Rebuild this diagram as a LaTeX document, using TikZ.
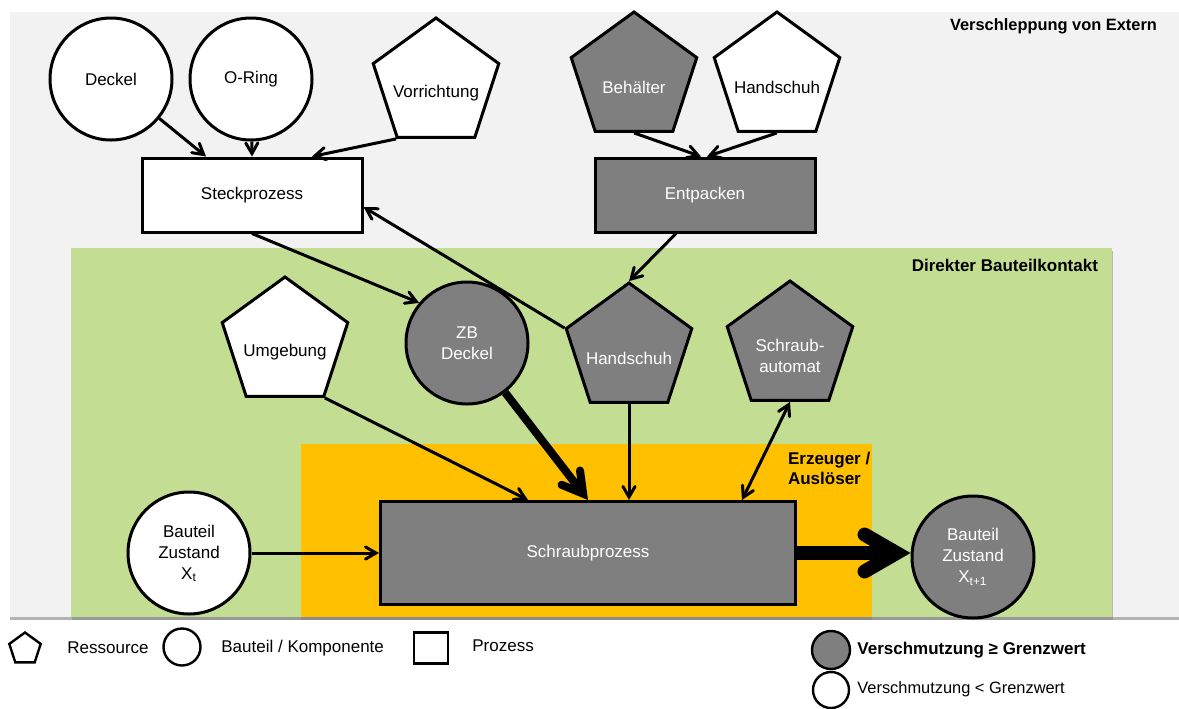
\documentclass[tikz,border=0pt]{standalone}
\usepackage{fontspec}
\setmainfont{Liberation Sans}
\usepackage{tikz}
\usetikzlibrary{arrows,shapes.geometric,shadows}

\definecolor{extgray}{HTML}{F2F2F2}
\definecolor{kontaktgreen}{HTML}{C3DD92}
\definecolor{erzorange}{HTML}{FFC000}
\definecolor{dirtygray}{HTML}{7F7F7F}

\begin{document}
\begin{tikzpicture}[x=0.5pt,y=-0.5pt,font=\fontsize{8.5}{10.5}\selectfont]
    \tikzset{comp/.style = {shape=circle,draw,line width=1.5pt,minimum size=61pt,inner sep=0pt,fill=white,align=center}}
    \tikzset{res/.style = {regular polygon,regular polygon sides=5,draw,line width=1.5pt,minimum size=66pt,inner sep=0pt,fill=white}}
    \tikzset{proc/.style = {rectangle,draw,line width=1.5pt,minimum width=110pt,minimum height=37pt,fill=white}}
    \tikzset{dirty/.style = {fill=dirtygray,text=white}}
    \tikzset{restext/.style = {yshift=-4.5pt,align=center}}
    \tikzset{dlabel/.style = {restext,text=white}}
    \tikzset{zone/.style = {font=\fontsize{8.5}{10}\selectfont\bfseries}}
    \tikzset{legtext/.style = {anchor=west,inner sep=0pt}}
    \tikzset{flow/.style = {->,> = angle 60,line width=1.5pt}}
    \useasboundingbox (0,0) rectangle (1179,708);
    % zones
    \fill[extgray,drop shadow={shadow xshift=0pt,shadow yshift=-1.5pt,opacity=.6}] (10,12) rectangle (1185,617);
    \fill[kontaktgreen,drop shadow={shadow xshift=0.5pt,shadow yshift=-1.5pt,opacity=.5}] (71,248) rectangle (1112,617);
    \fill[erzorange,drop shadow={shadow xshift=0pt,shadow yshift=-1.5pt,opacity=.5}] (301,444) rectangle (872,617);
    \node[zone,anchor=east,font=\fontsize{8.2}{10}\selectfont\bfseries] (extern) at (1164,26) {Verschleppung von Extern};
    \node[zone,anchor=east] (kontakt) at (1105,265) {Direkter Bauteilkontakt};
    \node[zone,anchor=west,align=left] (erzeuger) at (781,468) {Erzeuger /\\Auslöser};

    % vertices
    \node[comp] (deckel) at (111,79) {Deckel};
    \node[comp] (oring) at (251,79) {O-Ring};
    \node[res,label={[restext]center:Vorrichtung}] (vor) at (436,84) {};
    \node[proc] (steck) at (252,195) {Steckprozess};
    \node[res,dirty,label={[dlabel]center:Behälter}] (beh) at (634,78) {};
    \node[res,label={[restext]center:Handschuh}] (hand) at (777,78) {};
    \node[proc,dirty] (entp) at (705,195) {Entpacken};
    \node[res,label={[restext]center:Umgebung}] (umg) at (285,343) {};
    \node[comp,dirty] (zb) at (467,343) {ZB\\Deckel};
    \node[res,dirty,label={[dlabel]center:Handschuh}] (hand2) at (629,349) {};
    \node[res,dirty,label={[dlabel]center:Schraub-\\automat}] (aut) at (790,347) {};
    \node[comp] (xt) at (189,553) {Bauteil\\Zustand\\X\textsubscript{t}};
    \node[proc,dirty,minimum width=207.5pt,minimum height=51.5pt] (schr) at (588,553) {Schraubprozess};
    \node[comp,dirty] (xt1) at (973,557) {Bauteil\\Zustand\\X\textsubscript{t+1}};

    % edges
    \path[flow] (deckel) edge ([xshift=-23pt]steck.north)
                (oring) edge (steck.north)
                (vor.corner 3) edge ([xshift=30pt]steck.north);
    \path[flow] (beh.side 3) edge ([xshift=-2pt]entp.north)
                (hand.side 3) edge ([xshift=1pt]entp.north);
    \path[flow] ([xshift=-14.5pt]entp.south) edge (hand2.corner 1);
    \path[flow] (hand2.corner 2) edge ([yshift=-6pt]steck.east);
    \path[flow] (steck.south) edge (zb.140);
    \path[flow] (umg.corner 4) edge ([xshift=-30pt]schr.north);
    \path[flow,line width=4pt] (zb) edge (schr.north);
    \path[flow] (hand2.side 3) edge (hand2.side 3 |- schr.north);
    \path[flow,<->] (aut.side 3) edge ([xshift=77pt]schr.north);
    \path[flow] (xt) edge (xt -| schr.west);
    \path[flow,line width=7pt] (schr.east) edge (schr.east -| xt1.west);

    % legend
    \node[res,line width=1.2pt,minimum size=16.5pt] (lres) at (25,649) {};
    \node[legtext] (lrestxt) at (67,648) {Ressource};
    \node[comp,line width=1.2pt,minimum size=18.5pt] (lcomp) at (182,647) {};
    \node[legtext] (lcomptxt) at (221,648) {Bauteil / Komponente};
    \node[proc,line width=1.2pt,minimum width=17pt,minimum height=15.5pt] (lproc) at (431,648) {};
    \node[legtext] (lproctxt) at (472,646) {Prozess};
    \node[comp,dirty,line width=1.2pt,minimum size=19pt] (lhigh) at (831,650) {};
    \node[legtext,font=\fontsize{8.5}{10}\selectfont\bfseries] (lhightxt) at (857,650) {Verschmutzung ≥ Grenzwert};
    \node[comp,line width=1.2pt,minimum size=18pt] (llow) at (831,690) {};
    \node[legtext,font=\fontsize{8.2}{10}\selectfont] (llowtxt) at (857,689) {Verschmutzung < Grenzwert};
\end{tikzpicture}
\end{document}
